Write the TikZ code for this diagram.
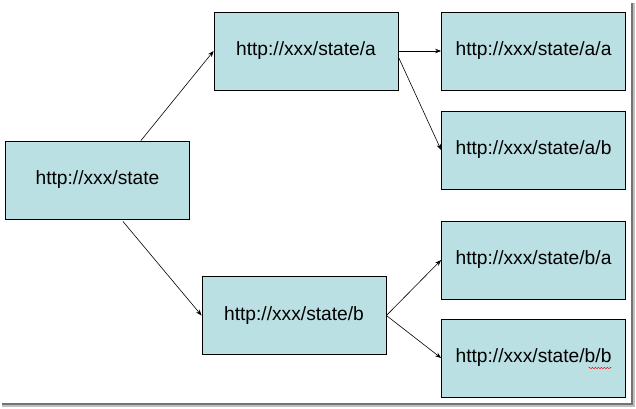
\documentclass[tikz,border=0pt]{standalone}
\usepackage{fontspec}
\setmainfont{Liberation Sans}
\usetikzlibrary{arrows.meta,decorations.pathmorphing}
\definecolor{boxfill}{RGB}{187,224,227}

\begin{document}
\begin{tikzpicture}[x=1pt,y=-1pt,
    state/.style={draw=black,line width=0.8pt,fill=boxfill,minimum width=184pt,
      minimum height=78pt,inner sep=0pt,font=\fontsize{19.2}{21}\selectfont},
    link/.style={line width=0.6pt,-{Stealth[length=6pt,width=4.5pt]}}]
  \useasboundingbox (0,0) rectangle (636,408);
  % shadow of the frame
  \fill[black!55] (631,3) rectangle (633,405);
  \fill[black!25] (633,3) rectangle (635,407);
  \fill[black!55] (2,403) rectangle (633,405);
  \fill[black!25] (2,405) rectangle (635,407);
  \node[state] (root) at (97.5,180) {http://xxx/state};
  \node[state] (a) at (306,51) {http://xxx/state/a};
  \node[state] (b) at (294,315.5) {http://xxx/state/b};
  \node[state] (aa) at (533.5,51) {http://xxx/state/a/a};
  \node[state] (ab) at (533.5,150) {http://xxx/state/a/b};
  \node[state] (ba) at (533.5,260) {http://xxx/state/b/a};
  \node[state] (bb) at (533.5,358) {http://xxx/state/b/b};
  \coordinate (r1) at ([xshift=-49pt]root.north east);
  \coordinate (r2) at ([xshift=-67pt,yshift=-2pt]root.south east);
  \coordinate (a1) at ([yshift=-6pt]a.east);
  \draw[link] (r1) -- (a.west);
  \draw[link] (r2) -- (b.west);
  \draw[link] (a.east) -- (aa.west);
  \draw[link] (a1) -- (ab.west);
  \draw[link] (b.east) -- (ba.west);
  \draw[link] (b.east) -- (bb.west);
  \draw[red,line width=0.4pt,decorate,decoration={snake,amplitude=0.8pt,segment length=3pt}]
    ([xshift=55pt,yshift=-10pt]bb.center) -- ([xshift=78pt,yshift=-10pt]bb.center);
\end{tikzpicture}
\end{document}
